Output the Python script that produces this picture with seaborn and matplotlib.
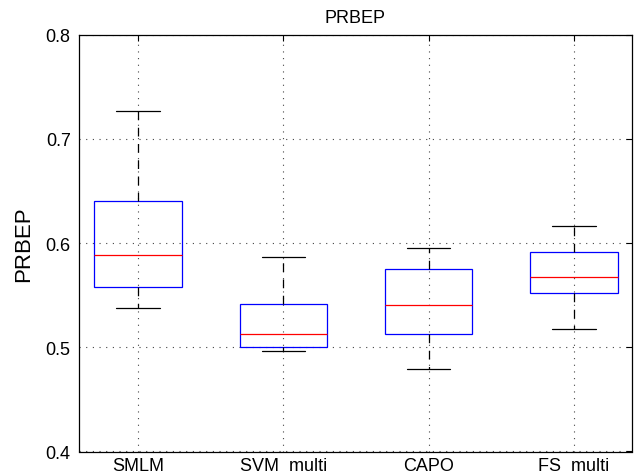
import numpy as np
import pandas as pd
import matplotlib
matplotlib.use("Agg")
import matplotlib.pyplot as plt
import seaborn as sns

# --- data (five-number summaries) ---
methods = ["SMLM", "SVM  multi", "CAPO", "FS  multi"]
lower_whisker = [0.538, 0.496, 0.4796, 0.5177]
q1 = [0.5576, 0.5007, 0.5125, 0.5525]
median = [0.589, 0.5125, 0.541, 0.5676]
q3 = [0.640, 0.542, 0.575, 0.5916]
upper_whisker = [0.7264, 0.587, 0.5957, 0.616]
y_ticks = [0.4, 0.5, 0.6, 0.7, 0.8]
y_tick_labels = ["0.4", "0.5", "0.6", "0.7", "0.8"]

# Long-form table: five points per group reproduce the five-number summary exactly
rows = []
for m, a, b, c, d, e in zip(methods, lower_whisker, q1, median, q3, upper_whisker):
    for v in (a, b, c, d, e):
        rows.append({"method": m, "PRBEP": v})
df = pd.DataFrame(rows)

sns.set_style("white")
plt.rcParams["font.family"] = ["Liberation Sans", "DejaVu Sans"]
plt.rcParams["text.color"] = "black"
plt.rcParams["axes.labelcolor"] = "black"

fig = plt.figure(figsize=(6.36, 4.77), dpi=100)
ax = fig.add_axes([79 / 636, (477 - 452.5) / 477, (631.7 - 79) / 636, (452.5 - 35.7) / 477])

lw = 0.9
sns.boxplot(
    data=df, x="method", y="PRBEP", order=methods, ax=ax,
    width=0.6, whis=(0, 100), showfliers=False, fill=True,
    boxprops=dict(facecolor="none", edgecolor="#0000ff", linewidth=lw),
    medianprops=dict(color="#ff0000", linewidth=lw),
    whiskerprops=dict(color="black", linestyle=(0, (7, 6)), linewidth=lw),
    capprops=dict(color="black", linewidth=lw),
)

ax.set_xlim(-0.406, 3.397)
ax.set_ylim(0.4, 0.8)
ax.set_yticks(y_ticks)
ax.set_yticklabels(y_tick_labels)
ax.set_xticks(range(len(methods)))
ax.set_xticklabels(methods)

ax.set_axisbelow(True)
ax.grid(True, linestyle=(0, (1, 5)), color="#444444", linewidth=0.8)

for s in ax.spines.values():
    s.set_visible(True)
    s.set_color("black")
    s.set_linewidth(0.9)

ax.tick_params(axis="both", which="both", direction="in", length=4, width=0.8,
               top=True, right=True, labelsize=13, colors="black")
ax.tick_params(axis="x", pad=4)
ax.tick_params(axis="y", pad=6)

ax.set_xlabel("")
ax.set_ylabel("PRBEP", fontsize=16, labelpad=8, color="black")
ax.set_title("PRBEP", fontsize=13, pad=9, color="black")

fig.savefig("out.png", dpi=100)
